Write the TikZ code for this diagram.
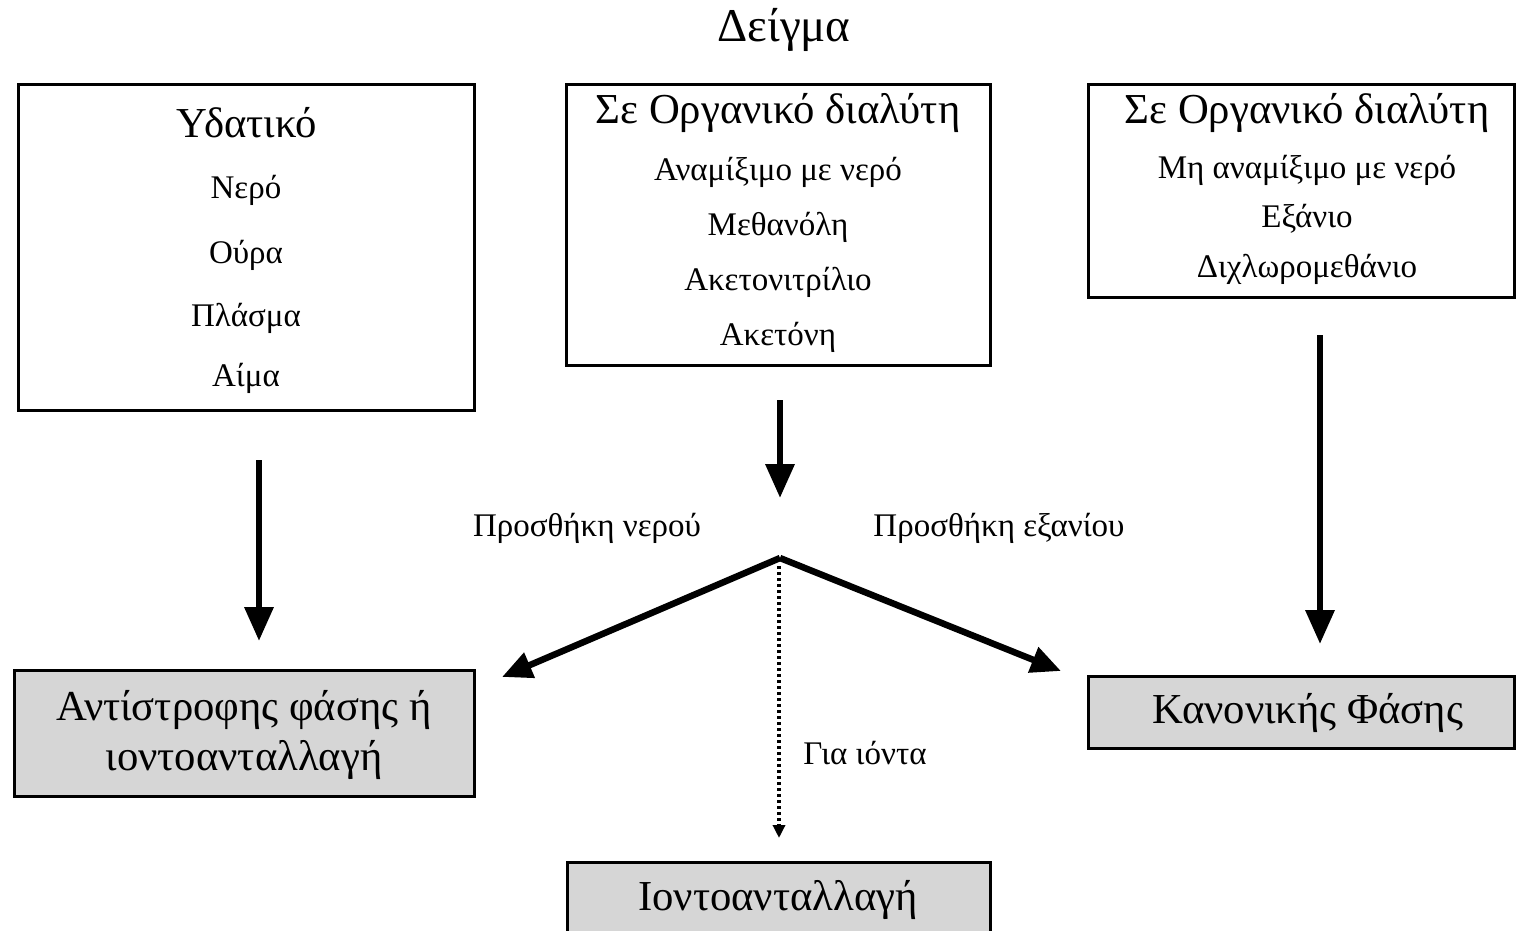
\documentclass[tikz,border=0pt]{standalone}
\usepackage{fontspec}
\setmainfont{Liberation Serif}
\usetikzlibrary{arrows.meta}
\begin{document}
\begin{tikzpicture}[x=1pt,y=-1pt,
  box/.style={draw=black,line width=3pt,inner sep=0pt,outer sep=0pt},
  gbox/.style={box,fill=black!16},
  ttl/.style={font=\fontsize{42.7}{46}\selectfont,inner sep=0pt},
  itm/.style={font=\fontsize{33}{36}\selectfont,inner sep=0pt},
  lbl/.style={font=\fontsize{33}{36}\selectfont,inner sep=0pt},
  big/.style={font=\fontsize{42.7}{50}\selectfont,inner sep=0pt,align=center},
  thick arrow/.style={line width=6.5pt,-{Triangle[length=34pt,width=28pt]}},
  diag arrow/.style={line width=6.5pt,-{Triangle[length=30pt,width=26pt]}},
  dot arrow/.style={line width=4pt,dash pattern=on 3pt off 3pt,-{Triangle[length=13pt,width=12pt]}}]
\clip (0,0) rectangle (1516,931);
\fill[white] (0,0) rectangle (1516,931);
% title
\node[font=\fontsize{47}{50}\selectfont,inner sep=0pt] (deigma) at (784,30) {Δείγμα};
% box 1
\node[box,minimum width=456pt,minimum height=325pt,anchor=north west] (b1) at (18,85) {};
\node[ttl] (b1t) at (247,123) {Υδατικό};
\node[itm] (b1a) at (246,190) {Νερό};
\node[itm] (b1b) at (246,255) {Ούρα};
\node[itm] (b1c) at (246,318) {Πλάσμα};
\node[itm] (b1d) at (246,378) {Αίμα};
% box 2
\node[box,minimum width=424pt,minimum height=280pt,anchor=north west] (b2) at (566,85) {};
\node[ttl] (b2t) at (778,113) {Σε Οργανικό διαλύτη};
\node[itm] (b2a) at (778,172) {Αναμίξιμο με νερό};
\node[itm] (b2b) at (778,227) {Μεθανόλη};
\node[itm] (b2c) at (778,282) {Ακετονιτρίλιο};
\node[itm] (b2d) at (778,337) {Ακετόνη};
% box 3
\node[box,minimum width=426pt,minimum height=212pt,anchor=north west] (b3) at (1088,85) {};
\node[ttl] (b3t) at (1307,113) {Σε Οργανικό διαλύτη};
\node[itm] (b3a) at (1307,170) {Μη αναμίξιμο με νερό};
\node[itm] (b3b) at (1307,219) {Εξάνιο};
\node[itm] (b3c) at (1307,269) {Διχλωρομεθάνιο};
% bottom boxes
\node[gbox,minimum width=460pt,minimum height=126pt,anchor=north west] (r1) at (14,670) {};
\node[big] (r1t) at (244,735) {Αντίστροφης φάσης ή\\ιοντοανταλλαγή};
\node[gbox,minimum width=426pt,minimum height=72pt,anchor=north west] (r2) at (1088,676) {};
\node[big] (r2t) at (1308,713) {Κανονικής Φάσης};
\node[gbox,minimum width=423pt,minimum height=90pt,anchor=north west] (r3) at (567,862) {};
\node[big] (r3t) at (778,900) {Ιοντοανταλλαγή};
% arrow coordinates
\coordinate (a1s) at (259,460);
\coordinate (a1e) at (259,641);
\coordinate (a2s) at (780,400);
\coordinate (a2e) at (780,498);
\coordinate (a3s) at (1320,335);
\coordinate (a3e) at (1320,644);
\coordinate (apex) at (780,558);
\coordinate (le) at (502,677);
\coordinate (re) at (1061,671);
\coordinate (ds) at (779,566);
\coordinate (de) at (779,838);
\draw[thick arrow] (a1s) -- (a1e);
\draw[thick arrow] (a2s) -- (a2e);
\draw[thick arrow] (a3s) -- (a3e);
\draw[diag arrow,line join=round] (apex) -- (le);
\draw[diag arrow,line join=round] (apex) -- (re);
\draw[dot arrow] (ds) -- (de);
% labels
\node[lbl] (l1) at (587,528) {Προσθήκη νερού};
\node[lbl] (l2) at (999,528) {Προσθήκη εξανίου};
\node[lbl] (l3) at (865,753) {Για ιόντα};
\end{tikzpicture}
\end{document}
